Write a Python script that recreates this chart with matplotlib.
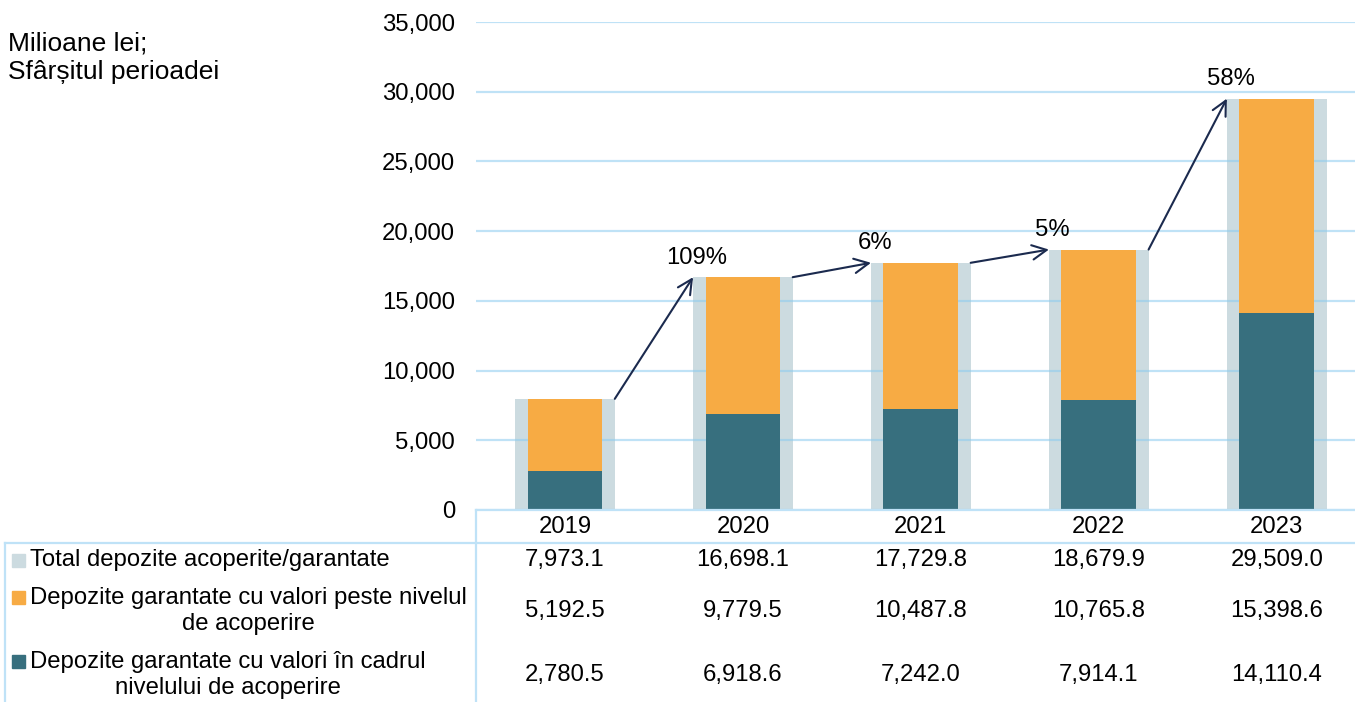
import matplotlib
matplotlib.use("Agg")
import matplotlib.pyplot as plt
from matplotlib.lines import Line2D
from matplotlib.patches import Rectangle
from matplotlib.ticker import FuncFormatter
import matplotlib.transforms as mtransforms

years = ["2019", "2020", "2021", "2022", "2023"]
total = [7973.1, 16698.1, 17729.8, 18679.9, 29509.0]
above = [5192.5, 9779.5, 10487.8, 10765.8, 15398.6]
within = [2780.5, 6918.6, 7242.0, 7914.1, 14110.4]

row_labels = [
    "Total depozite acoperite/garantate",
    "Depozite garantate cu valori peste nivelul\nde acoperire",
    "Depozite garantate cu valori în cadrul\nnivelului de acoperire",
]

c_total = "#ccdbe0"
c_above = "#f7ab44"
c_within = "#376f7e"
c_arrow = "#1b2a4e"
c_line = "#bfe2f7"

W, H = 1355, 702
plt.rcParams["font.family"] = ["Liberation Sans", "DejaVu Sans"]
fs = 17.2

fig = plt.figure(figsize=(W / 100, H / 100), dpi=100)
ax = fig.add_axes([476 / W, (H - 510) / H, (W - 476) / W, (510 - 22) / H])

x = list(range(len(years)))
ax.bar(x, total, width=0.56, color=c_total, zorder=1)
ax.bar(x, within, width=0.42, color=c_within, zorder=2)
ax.bar(x, above, width=0.42, bottom=within, color=c_above, zorder=2)

ax.set_xlim(-0.5, 4.44)
ax.set_ylim(0, 35000)
ax.set_yticks(range(0, 35001, 5000))
ax.yaxis.set_major_formatter(FuncFormatter(lambda v, p: f"{v:,.0f}"))
ax.tick_params(axis="y", length=0, pad=15, labelsize=fs)
ax.tick_params(axis="x", length=0, pad=4, labelsize=fs)
ax.set_xticks(x)
ax.set_xticklabels(years)

ax.set_axisbelow("line")
ax.yaxis.grid(True, color="#8ccbf0", alpha=0.55, lw=1.6)
for s in ["left", "right", "top"]:
    ax.spines[s].set_visible(False)
ax.spines["bottom"].set_color(c_line)
ax.spines["bottom"].set_linewidth(1.6)

# growth arrows and labels
for i in range(len(years) - 1):
    ax.annotate("", xy=(i + 1 - 0.28, total[i + 1]), xytext=(i + 0.28, total[i]),
                arrowprops=dict(arrowstyle="->", color=c_arrow, lw=1.5,
                                mutation_scale=26, shrinkA=0, shrinkB=0),
                zorder=5)
    pct = (total[i + 1] / total[i] - 1) * 100
    ax.annotate(f"{pct:.0f}%", xy=(i + 1 - 0.26, total[i + 1]), xytext=(0, 6),
                textcoords="offset points", ha="center", va="bottom",
                fontsize=fs, zorder=6)

fig.text(8 / W, 1 - 32 / H, "Milioane lei;\nSfârșitul perioadei",
         fontsize=19, ha="left", va="top", linespacing=1.2)

# data table below the chart
def fy(py):
    return 1 - py / H

for seg in [((5, 543), (W, 543)), ((5, 543), (5, H)), ((476, 510), (476, H))]:
    fig.add_artist(Line2D([seg[0][0] / W, seg[1][0] / W], [fy(seg[0][1]), fy(seg[1][1])],
                          color=c_line, lw=1.6, transform=fig.transFigure))

row_y = [560, 611, 675]
marker_y = [560, 597, 661]
colors = [c_total, c_above, c_within]
rows = [total, above, within]
tr = mtransforms.blended_transform_factory(ax.transData, fig.transFigure)
for r in range(3):
    fig.add_artist(Rectangle((12 / W, fy(marker_y[r] + 6.5)), 13 / W, 13 / H,
                             color=colors[r], transform=fig.transFigure))
    fig.text(30 / W, fy(row_y[r]), row_labels[r], fontsize=fs, ha="left",
             va="center", multialignment="center", linespacing=1.25)
    for i, v in enumerate(rows[r]):
        ax.text(i, fy(row_y[r]), f"{v:,.1f}", transform=tr, fontsize=fs,
                ha="center", va="center", clip_on=False)

fig.savefig("out.png", dpi=100)
